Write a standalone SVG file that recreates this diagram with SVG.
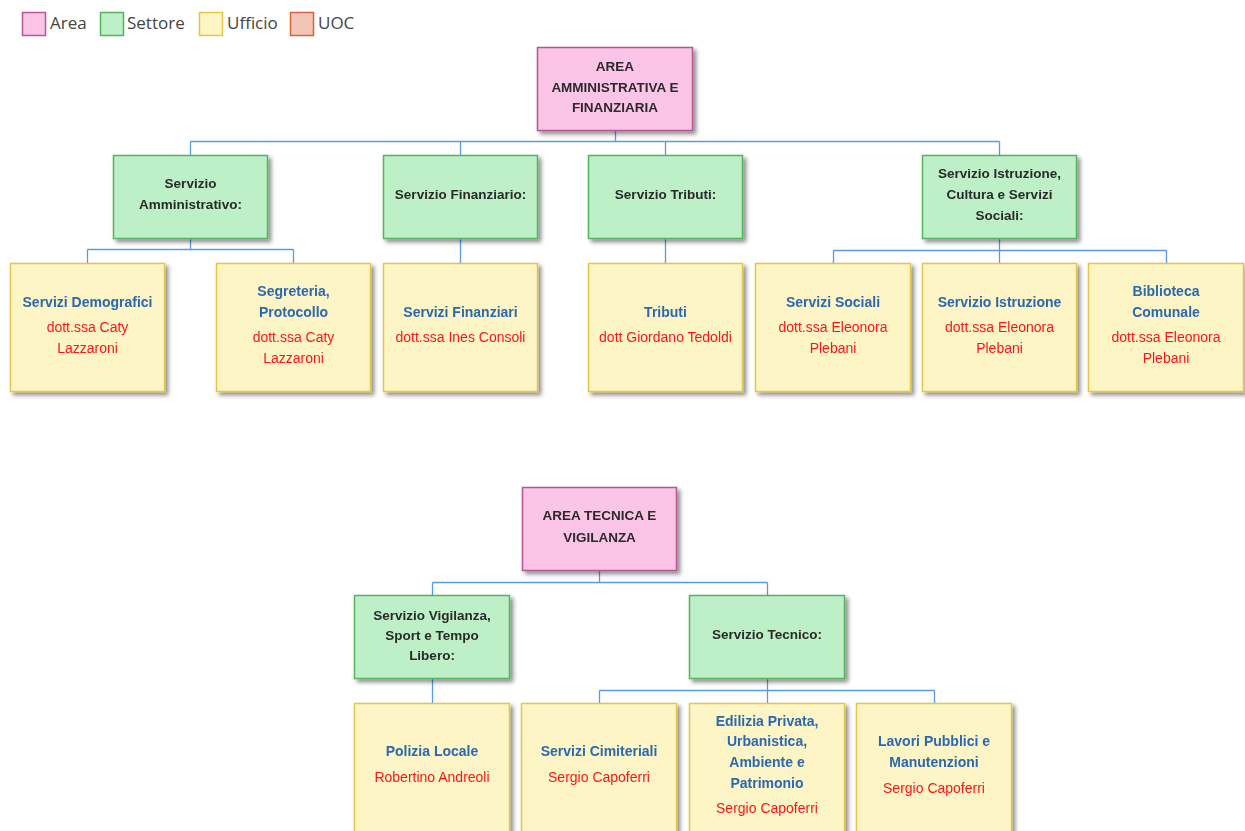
<svg xmlns="http://www.w3.org/2000/svg" width="1245" height="831" viewBox="0 0 1245 831">
<style>
.area{fill:#fcc4e7;stroke:#b8578f;stroke-width:1.5}
.sett{fill:#bdf0c6;stroke:#56b35e;stroke-width:1.5}
.uff{fill:#fdf5c6;stroke:#e2c748;stroke-width:1.5}
.uoc{fill:#f2c6b6;stroke:#d0653e;stroke-width:1.5}
.box{filter:url(#sh)}
.lg{font-family:"Open Sans","Noto Sans",sans-serif;font-size:17px;fill:#444}
.t{font-family:"Liberation Sans",Arial,sans-serif;font-size:13.5px;font-weight:bold;fill:#2a2a2a;text-anchor:middle}
.b{font-family:"Liberation Sans",Arial,sans-serif;font-size:14px;font-weight:bold;fill:#2a69b0;text-anchor:middle}
.r{font-family:"Liberation Sans",Arial,sans-serif;font-size:14px;fill:#f81818;text-anchor:middle}
.conn path{fill:none;stroke:#5a9ae0;stroke-width:1.3}
</style>
<defs>
<filter id="sh" x="-10%" y="-10%" width="130%" height="130%">
<feDropShadow dx="3" dy="3" stdDeviation="2" flood-color="#000" flood-opacity="0.45"/>
</filter>
</defs>
<rect width="1245" height="831" fill="#fff"/>
<g id="legend">
<rect class="area" x="22.5" y="12.5" width="23" height="23"/><text class="lg" x="50" y="29">Area</text>
<rect class="sett" x="100.5" y="12.5" width="23" height="23"/><text class="lg" x="127" y="29">Settore</text>
<rect class="uff" x="199.5" y="12.5" width="23" height="23"/><text class="lg" x="227" y="29">Ufficio</text>
<rect class="uoc" x="290.5" y="12.5" width="23" height="23"/><text class="lg" x="318" y="29">UOC</text>
</g>
<g class="conn" id="connectors">
<path d="M615.5,130V141.5M190.5,141.5H999.5M190.5,141.5V155M460.5,141.5V155M665.5,141.5V155M999.5,141.5V155"/>
<path d="M190.5,238V249.5M87.5,249.5H293.5M87.5,249.5V263M293.5,249.5V263"/>
<path d="M460.5,238V263M665.5,238V263"/>
<path d="M999.5,238V250.5M833.5,250.5H1166.5M833.5,250.5V263M999.5,250.5V263M1166.5,250.5V263"/>
<path d="M599.5,570V582.5M432.5,582.5H767.5M432.5,582.5V595M767.5,582.5V595"/>
<path d="M432.5,678V703M767.5,678V690.5M599.5,690.5H934.5M599.5,690.5V703M767.5,690.5V703M934.5,690.5V703"/>
</g>
<g id="area1" class="box"><rect class="area" x="537.5" y="47.5" width="155" height="83"/>
<text class="t" x="615" y="70.5">AREA</text><text class="t" x="615" y="91.5">AMMINISTRATIVA E</text><text class="t" x="615" y="111.5">FINANZIARIA</text></g>
<g id="sett-amm" class="box"><rect class="sett" x="113.5" y="155.5" width="154" height="83"/>
<text class="t" x="190.5" y="187.5">Servizio</text><text class="t" x="190.5" y="208.5">Amministrativo:</text></g>
<g id="sett-fin" class="box"><rect class="sett" x="383.5" y="155.5" width="154" height="83"/>
<text class="t" x="460.5" y="198.5">Servizio Finanziario:</text></g>
<g id="sett-trib" class="box"><rect class="sett" x="588.5" y="155.5" width="154" height="83"/>
<text class="t" x="665.5" y="198.5">Servizio Tributi:</text></g>
<g id="sett-istr" class="box"><rect class="sett" x="922.5" y="155.5" width="154" height="83"/>
<text class="t" x="999.5" y="177.5">Servizio Istruzione,</text><text class="t" x="999.5" y="198.5">Cultura e Servizi</text><text class="t" x="999.5" y="219.5">Sociali:</text></g>
<g id="uff-demo" class="box"><rect class="uff" x="10.5" y="263.5" width="154" height="128"/>
<text class="b" x="87.5" y="307">Servizi Demografici</text><text class="r" x="87.5" y="332">dott.ssa Caty</text><text class="r" x="87.5" y="353">Lazzaroni</text></g>
<g id="uff-segr" class="box"><rect class="uff" x="216.5" y="263.5" width="154" height="128"/>
<text class="b" x="293.5" y="296">Segreteria,</text><text class="b" x="293.5" y="317">Protocollo</text><text class="r" x="293.5" y="342">dott.ssa Caty</text><text class="r" x="293.5" y="363">Lazzaroni</text></g>
<g id="uff-fin" class="box"><rect class="uff" x="383.5" y="263.5" width="154" height="128"/>
<text class="b" x="460.5" y="317">Servizi Finanziari</text><text class="r" x="460.5" y="342">dott.ssa Ines Consoli</text></g>
<g id="uff-trib" class="box"><rect class="uff" x="588.5" y="263.5" width="154" height="128"/>
<text class="b" x="665.5" y="317">Tributi</text><text class="r" x="665.5" y="342">dott Giordano Tedoldi</text></g>
<g id="uff-soc" class="box"><rect class="uff" x="755.5" y="263.5" width="155" height="128"/>
<text class="b" x="833" y="307">Servizi Sociali</text><text class="r" x="833" y="332">dott.ssa Eleonora</text><text class="r" x="833" y="353">Plebani</text></g>
<g id="uff-istr" class="box"><rect class="uff" x="922.5" y="263.5" width="154" height="128"/>
<text class="b" x="999.5" y="307">Servizio Istruzione</text><text class="r" x="999.5" y="332">dott.ssa Eleonora</text><text class="r" x="999.5" y="353">Plebani</text></g>
<g id="uff-bibl" class="box"><rect class="uff" x="1088.5" y="263.5" width="155" height="128"/>
<text class="b" x="1166" y="296">Biblioteca</text><text class="b" x="1166" y="317">Comunale</text><text class="r" x="1166" y="342">dott.ssa Eleonora</text><text class="r" x="1166" y="363">Plebani</text></g>
<g id="area2" class="box"><rect class="area" x="522.5" y="487.5" width="154" height="83"/>
<text class="t" x="599.5" y="519.5">AREA TECNICA E</text><text class="t" x="599.5" y="541.5">VIGILANZA</text></g>
<g id="sett-vig" class="box"><rect class="sett" x="354.5" y="595.5" width="155" height="83"/>
<text class="t" x="432" y="619.5">Servizio Vigilanza,</text><text class="t" x="432" y="639.5">Sport e Tempo</text><text class="t" x="432" y="659.5">Libero:</text></g>
<g id="sett-tec" class="box"><rect class="sett" x="689.5" y="595.5" width="155" height="83"/>
<text class="t" x="767" y="638.5">Servizio Tecnico:</text></g>
<g id="uff-pol" class="box"><rect class="uff" x="354.5" y="703.5" width="155" height="135"/>
<text class="b" x="432" y="756">Polizia Locale</text><text class="r" x="432" y="782">Robertino Andreoli</text></g>
<g id="uff-cim" class="box"><rect class="uff" x="521.5" y="703.5" width="155" height="135"/>
<text class="b" x="599" y="756">Servizi Cimiteriali</text><text class="r" x="599" y="782">Sergio Capoferri</text></g>
<g id="uff-edil" class="box"><rect class="uff" x="689.5" y="703.5" width="155" height="135"/>
<text class="b" x="767" y="726">Edilizia Privata,</text><text class="b" x="767" y="746">Urbanistica,</text><text class="b" x="767" y="767">Ambiente e</text><text class="b" x="767" y="788">Patrimonio</text><text class="r" x="767" y="813">Sergio Capoferri</text></g>
<g id="uff-lav" class="box"><rect class="uff" x="856.5" y="703.5" width="155" height="135"/>
<text class="b" x="934" y="746">Lavori Pubblici e</text><text class="b" x="934" y="767">Manutenzioni</text><text class="r" x="934" y="793">Sergio Capoferri</text></g>
</svg>
